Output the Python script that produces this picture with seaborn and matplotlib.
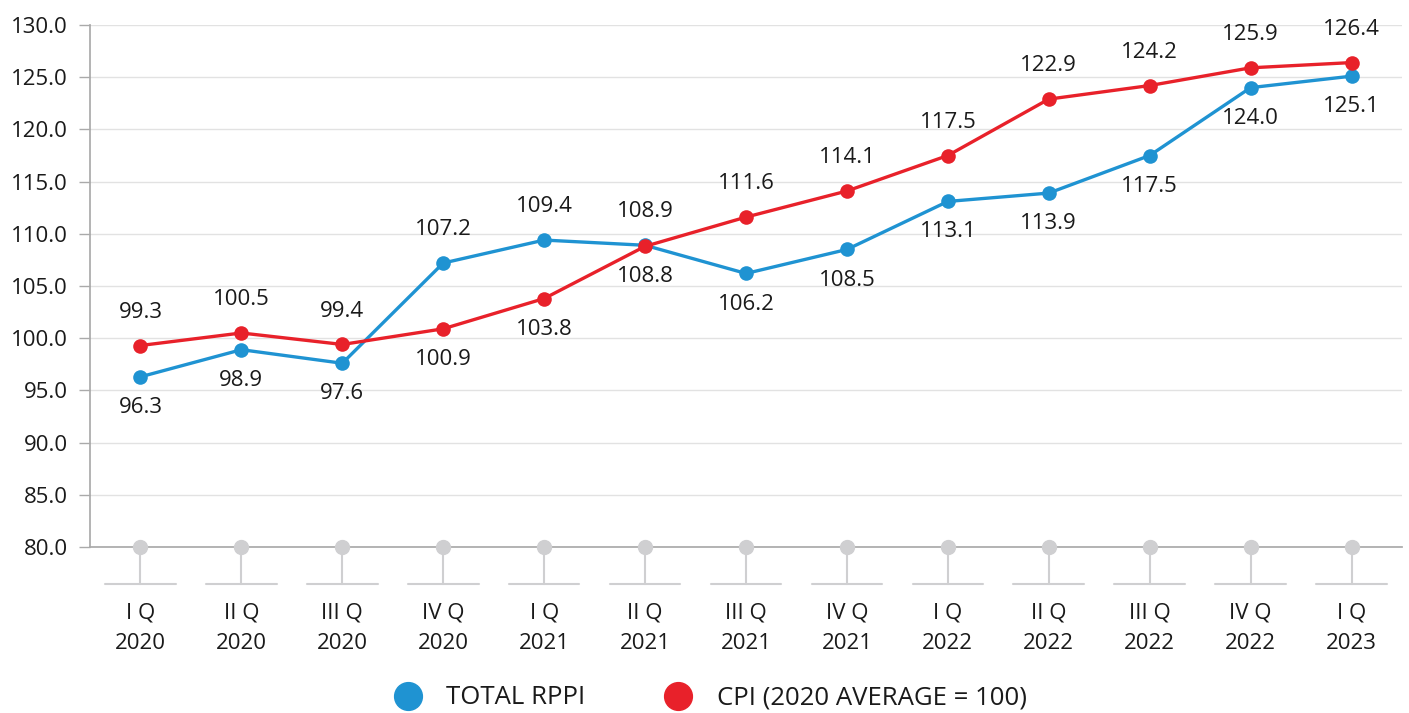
import numpy as np
import pandas as pd
import matplotlib.pyplot as plt
import seaborn as sns

# Data
quarters = ["I Q\n2020", "II Q\n2020", "III Q\n2020", "IV Q\n2020",
            "I Q\n2021", "II Q\n2021", "III Q\n2021", "IV Q\n2021",
            "I Q\n2022", "II Q\n2022", "III Q\n2022", "IV Q\n2022",
            "I Q\n2023"]
rppi = [96.3, 98.9, 97.6, 107.2, 109.4, 108.9, 106.2, 108.5, 113.1, 113.9, 117.5, 124.0, 125.1]
cpi = [99.3, 100.5, 99.4, 100.9, 103.8, 108.8, 111.6, 114.1, 117.5, 122.9, 124.2, 125.9, 126.4]
series_names = ["TOTAL RPPI", "CPI (2020 AVERAGE = 100)"]

BLUE = "#1f93d2"
RED = "#e8212a"
GREY = "#cfcfd1"
TEXT = "#1a1a1a"

pos = np.arange(len(quarters))
df = pd.DataFrame({
    "pos": np.concatenate([pos, pos]),
    "value": rppi + cpi,
    "series": [series_names[0]] * len(pos) + [series_names[1]] * len(pos),
})

sns.set_theme(style="white")
plt.rcParams["font.family"] = ["Open Sans", "DejaVu Sans"]

fig = plt.figure(figsize=(14.09, 7.13), dpi=100)
ax = fig.add_axes([90 / 1409, 1 - 547 / 713, 1312 / 1409, 522 / 713])

# grey base markers at 80 with stems below the axis
ax.plot(pos, [80] * len(pos), "o", color=GREY, ms=10, zorder=4, clip_on=False)
trans = ax.get_xaxis_transform()
for p in pos:
    ax.plot([p, p], [0, -0.071], color=GREY, lw=1.5, transform=trans, clip_on=False)
    ax.plot([p - 0.35, p + 0.35], [-0.071, -0.071], color=GREY, lw=1.5,
            transform=trans, clip_on=False)

sns.lineplot(data=df, x="pos", y="value", hue="series", palette=[BLUE, RED],
             marker="o", markersize=10.5, markeredgewidth=0, linewidth=2.4,
             sort=False, ax=ax, zorder=5, legend=False)

# value labels: higher value above, lower below
for p, b, c in zip(pos, rppi, cpi):
    hi, lo = (c, b) if c >= b else (b, c)
    ax.annotate(f"{hi:.1f}", (p, hi), xytext=(0, 24), textcoords="offset points",
                ha="center", va="center", fontsize=16, color=TEXT)
    ax.annotate(f"{lo:.1f}", (p, lo), xytext=(0, -22), textcoords="offset points",
                ha="center", va="center", fontsize=16, color=TEXT)

ax.set_xlim(-0.5, len(quarters) - 0.5)
ax.set_ylim(80, 130)
ax.set_yticks(np.arange(80, 131, 5))
ax.set_yticklabels([f"{v:.1f}" for v in np.arange(80, 131, 5)])
ax.set_xticks(pos)
ax.set_xticklabels(quarters, linespacing=1.6)
ax.tick_params(axis="x", length=0, pad=40, labelsize=16, labelcolor=TEXT)
ax.tick_params(axis="y", length=8, width=1, color="#aaaaaa", pad=8,
               labelsize=16, labelcolor=TEXT, left=True)
ax.set_xlabel("")
ax.set_ylabel("")
ax.grid(axis="y", color="#e2e2e2", lw=1)
for s in ["top", "right"]:
    ax.spines[s].set_visible(False)
ax.spines["left"].set_color("#aaaaaa")
ax.spines["bottom"].set_color("#aaaaaa")

handles = [plt.Line2D([], [], ls="", marker="o", ms=20, color=col) for col in [BLUE, RED]]
fig.legend(handles, series_names, loc="center", bbox_to_anchor=(0.5, 1 - 698 / 713),
           ncol=2, frameon=False, fontsize=18.5, handletextpad=0.5, columnspacing=2.6,
           labelcolor=TEXT)

fig.savefig("out.png", dpi=100)
